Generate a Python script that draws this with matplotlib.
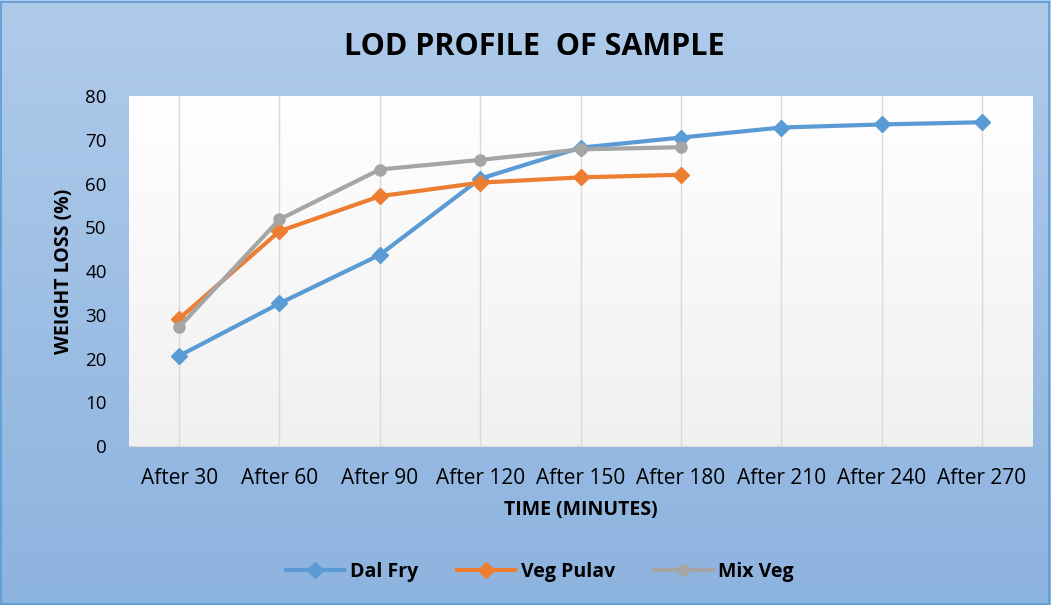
import numpy as np
import matplotlib.pyplot as plt
from matplotlib.colors import LinearSegmentedColormap
from matplotlib.patches import Rectangle

categories = ['After 30', 'After 60', 'After 90', 'After 120', 'After 150',
              'After 180', 'After 210', 'After 240', 'After 270']
dal_fry = [20.6, 32.6, 43.7, 61.1, 68.2, 70.5, 72.8, 73.5, 74.0]
veg_pulav = [29.1, 49.1, 57.1, 60.2, 61.4, 62.0]
mix_veg = [27.2, 51.8, 63.2, 65.4, 67.8, 68.3]

plt.rcParams['font.family'] = ['Open Sans', 'DejaVu Sans']

fig = plt.figure(figsize=(10.51, 6.05), dpi=100)

# gradient background for the whole chart
bg = fig.add_axes([0, 0, 1, 1], zorder=-10)
bg_cmap = LinearSegmentedColormap.from_list('bg', ['#afcbea', '#8db3df'])
bg.imshow(np.linspace(0, 1, 256).reshape(-1, 1), aspect='auto', cmap=bg_cmap,
          extent=[0, 1, 0, 1])
bg.add_patch(Rectangle((0.001, 0.002), 0.997, 0.995, fill=False,
                       edgecolor='#5b9bd5', lw=1.2, transform=bg.transAxes))
bg.set_xlim(0, 1)
bg.set_ylim(0, 1)
bg.axis('off')

ax = fig.add_axes([0.1227, 0.2628, 0.8593, 0.5785])
x = np.arange(len(categories))

# plot area gradient (white at top to light grey at bottom)
pa_cmap = LinearSegmentedColormap.from_list('pa', ['#ffffff', '#f0f0f0'])
ax.imshow(np.linspace(0, 1, 256).reshape(-1, 1), aspect='auto', cmap=pa_cmap,
          extent=[-0.5, 8.5, 0, 80], zorder=0)

for xi in x:
    ax.axvline(xi, color='#d9d9d9', lw=1, zorder=1)

ax.plot(x, dal_fry, color='#5b9bd5', lw=3, marker='D', ms=8, zorder=3, label='Dal Fry')
ax.plot(x[:len(veg_pulav)], veg_pulav, color='#ed7d31', lw=3, marker='D', ms=8,
        zorder=4, label='Veg Pulav')
ax.plot(x[:len(mix_veg)], mix_veg, color='#a5a5a5', lw=3, marker='o', ms=8,
        zorder=5, label='Mix Veg')

ax.set_xlim(-0.5, 8.5)
ax.set_ylim(0, 80)
ax.set_yticks(range(0, 81, 10))
ax.set_xticks(x)
ax.set_xticklabels(categories, fontsize=15)
ax.tick_params(axis='y', labelsize=13.5, length=0, pad=16)
ax.tick_params(axis='x', length=0, pad=16)
for s in ax.spines.values():
    s.set_visible(False)
ax.spines['bottom'].set_visible(True)
ax.spines['bottom'].set_color('#d9d9d9')

ax.set_xlabel('TIME (MINUTES)', fontsize=14, fontweight='bold', labelpad=8)
ax.set_ylabel('WEIGHT LOSS (%)', fontsize=14, fontweight='bold', labelpad=8)

fig.text(0.508, 0.922, 'LOD PROFILE  OF SAMPLE', ha='center', va='center',
         fontsize=22, fontweight='bold')

ax.legend(loc='center', bbox_to_anchor=(0.455, -0.36), ncol=3, frameon=False,
          prop={'weight': 'bold', 'size': 14}, handlelength=3, columnspacing=2.0,
          handletextpad=0.3)

fig.savefig('out.png', dpi=100)
